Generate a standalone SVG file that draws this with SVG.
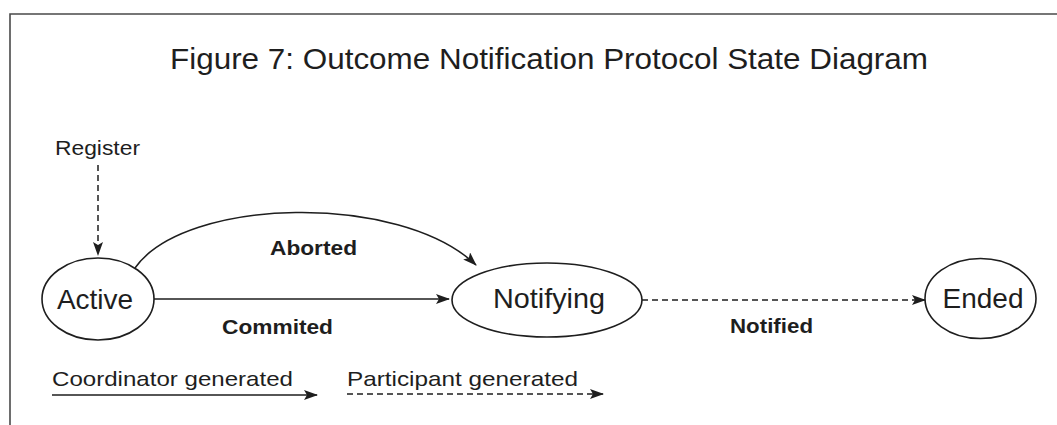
<svg xmlns="http://www.w3.org/2000/svg" width="1057" height="425" viewBox="0 0 1057 425">
  <style>
    .frame { fill: none; stroke: #4a4a4a; stroke-width: 1.6; }
    .state { fill: #ffffff; stroke: #1e1e1e; stroke-width: 1.6; }
    .edge { fill: none; stroke: #1e1e1e; stroke-width: 1.5; }
    .dashed { stroke-dasharray: 6 4; }
    text { font-family: "Liberation Sans", Arial, sans-serif; fill: #1e1e1e; }
    .title { font-size: 30px; }
    .name { font-size: 28px; text-anchor: middle; }
    .label { font-size: 21px; font-weight: bold; }
    .note { font-size: 21px; }
  </style>
  <defs>
    <marker id="head" viewBox="0 0 14 10" refX="13" refY="5" markerWidth="14" markerHeight="10" markerUnits="userSpaceOnUse" orient="auto">
      <path d="M0,0 L14,5 L0,10 L3,5 Z" fill="#1e1e1e"/>
    </marker>
  </defs>

  <rect width="1057" height="425" fill="#ffffff"/>
  <!-- page frame: top and left rules -->
  <path class="frame" d="M10,425 L10,14 L1057,14"/>

  <text class="title" x="170" y="69" textLength="758" lengthAdjust="spacingAndGlyphs">Figure 7: Outcome Notification Protocol State Diagram</text>

  <g id="connectors">
    <path id="register-edge" class="edge dashed" d="M98,165 L98,255" marker-end="url(#head)"/>
    <path id="aborted-edge" class="edge" d="M135,268 C185,197 400,192 476,265" marker-end="url(#head)"/>
    <path id="commited-edge" class="edge" d="M154,299 L449,299" marker-end="url(#head)"/>
    <path id="notified-edge" class="edge dashed" d="M642,300 L925,300" marker-end="url(#head)"/>
    <text class="note" x="55" y="155" textLength="85" lengthAdjust="spacingAndGlyphs">Register</text>
    <text class="label" x="270" y="255" textLength="87" lengthAdjust="spacingAndGlyphs">Aborted</text>
    <text class="label" x="222" y="334" textLength="111" lengthAdjust="spacingAndGlyphs">Commited</text>
    <text class="label" x="730" y="333" textLength="83" lengthAdjust="spacingAndGlyphs">Notified</text>
  </g>

  <g id="active">
    <ellipse class="state" cx="98" cy="299" rx="56" ry="41"/>
    <text class="name" x="95" y="309">Active</text>
  </g>

  <g id="notifying">
    <ellipse class="state" cx="547" cy="300" rx="95" ry="37"/>
    <text class="name" x="549" y="308" textLength="112" lengthAdjust="spacingAndGlyphs">Notifying</text>
  </g>

  <g id="ended">
    <ellipse class="state" cx="980.5" cy="298.5" rx="55.5" ry="40"/>
    <text class="name" x="983" y="308">Ended</text>
  </g>

  <g id="legend">
    <text class="note" x="52" y="386" textLength="241" lengthAdjust="spacingAndGlyphs">Coordinator generated</text>
    <path class="edge" d="M52,395 L317,395" marker-end="url(#head)"/>
    <text class="note" x="347" y="386" textLength="231" lengthAdjust="spacingAndGlyphs">Participant generated</text>
    <path class="edge dashed" d="M347,394 L603,394" marker-end="url(#head)"/>
  </g>
</svg>
